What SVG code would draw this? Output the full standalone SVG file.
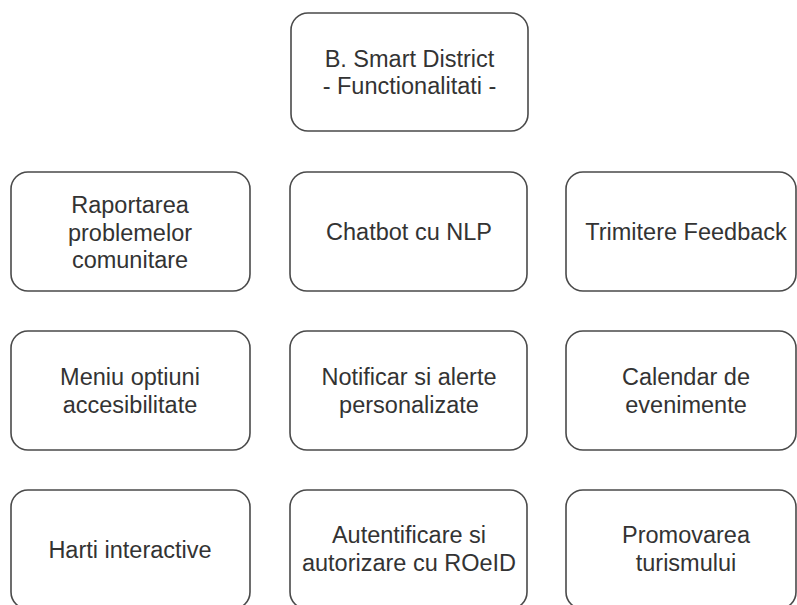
<svg xmlns="http://www.w3.org/2000/svg" width="797" height="605" viewBox="0 0 797 605">
<style>
.box{fill:#ffffff;stroke:#4a4a4a;stroke-width:1.6}
.t{font-family:"Liberation Sans",Arial,Helvetica,sans-serif;font-size:23.5px;fill:#333333;text-anchor:middle}
</style>
<rect width="797" height="605" fill="#ffffff"/>
<g id="title">
<rect class="box" x="291" y="13" width="237" height="118" rx="17"/>
<text class="t" x="409.5" y="67">B. Smart District</text>
<text class="t" x="409.5" y="94">- Functionalitati -</text>
</g>
<g id="raportarea">
<rect class="box" x="11" y="172" width="239" height="119" rx="17"/>
<text class="t" x="130" y="213">Raportarea</text>
<text class="t" x="130" y="240.5">problemelor</text>
<text class="t" x="130" y="268">comunitare</text>
</g>
<g id="chatbot">
<rect class="box" x="290" y="172" width="237" height="119" rx="17"/>
<text class="t" x="409" y="240">Chatbot cu NLP</text>
</g>
<g id="feedback">
<rect class="box" x="566" y="172" width="230" height="119" rx="17"/>
<text class="t" x="686" y="240">Trimitere Feedback</text>
</g>
<g id="meniu">
<rect class="box" x="11" y="331" width="239" height="119" rx="17"/>
<text class="t" x="130" y="385">Meniu optiuni</text>
<text class="t" x="130" y="412.5">accesibilitate</text>
</g>
<g id="notificari">
<rect class="box" x="290" y="331" width="237" height="119" rx="17"/>
<text class="t" x="409" y="385">Notificar si alerte</text>
<text class="t" x="409" y="412.5">personalizate</text>
</g>
<g id="calendar">
<rect class="box" x="566" y="331" width="230" height="119" rx="17"/>
<text class="t" x="686" y="385">Calendar de</text>
<text class="t" x="686" y="412.5">evenimente</text>
</g>
<g id="harti">
<rect class="box" x="11" y="490" width="239" height="119" rx="17"/>
<text class="t" x="130" y="558">Harti interactive</text>
</g>
<g id="autentificare">
<rect class="box" x="290" y="490" width="237" height="119" rx="17"/>
<text class="t" x="409" y="543">Autentificare si</text>
<text class="t" x="409" y="570.5">autorizare cu ROeID</text>
</g>
<g id="turism">
<rect class="box" x="566" y="490" width="230" height="119" rx="17"/>
<text class="t" x="686" y="543">Promovarea</text>
<text class="t" x="686" y="570.5">turismului</text>
</g>
</svg>
